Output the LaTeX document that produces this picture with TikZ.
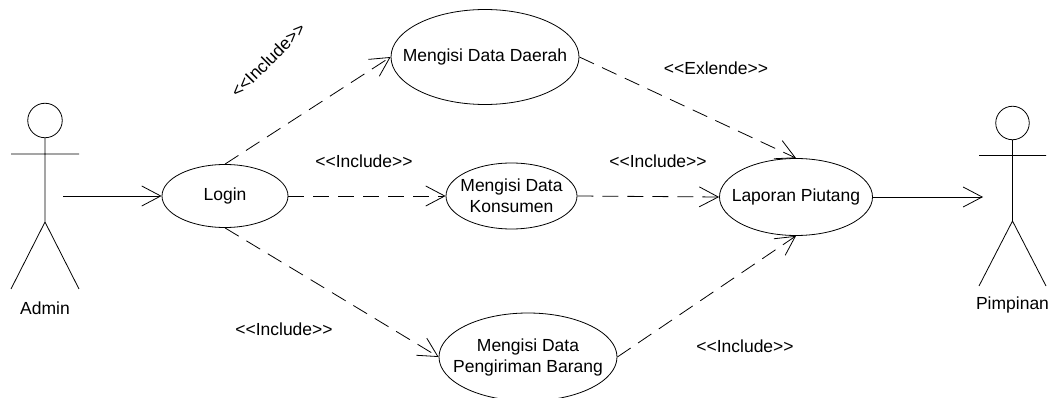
\documentclass[tikz,border=0pt]{standalone}
\usepackage{fontspec}
\setmainfont{Liberation Sans}[Ligatures=NoCommon]
\usetikzlibrary{arrows.meta,shapes.geometric}
\newcommand{\uct}[1]{\makebox[0pt][c]{\raisebox{-1.5pt}{#1}}}
\newcommand{\gui}[1]{<{}<#1>{}>}
\tikzset{
  uc/.style={draw,ellipse,line width=0.8pt,inner sep=0pt,font=\fontsize{17.5}{21}\selectfont,align=center},
  lbl/.style={font=\fontsize{17.5}{21}\selectfont,inner sep=0pt},
  actorline/.style={line width=0.8pt},
  assoc/.style={line width=0.8pt,-{Straight Barb[length=19pt,width=20pt,line width=0.8pt]}},
  dep/.style={assoc,dash pattern=on 16pt off 9pt},
}
\begin{document}
\begin{tikzpicture}[x=1pt,y=-1pt]
\useasboundingbox (0,0) rectangle (1053,398);
% actors
\node[draw,circle,actorline,minimum size=34.5pt,inner sep=0pt] (ah) at (45,120.5) {};
\coordinate (ahip) at (45,222);
\coordinate (aal) at (11,154);
\coordinate (aar) at (79,154);
\coordinate (all) at (11,289);
\coordinate (alr) at (79,289);
\draw[actorline] (ah.south) -- (ahip) (aal) -- (aar) (all) -- (ahip) -- (alr);
\node[lbl] (an) at (45,308.5) {Admin};
\node[draw,circle,actorline,minimum size=33.5pt,inner sep=0pt] (ph) at (1012.5,123) {};
\coordinate (phip) at (1012.5,221);
\coordinate (pal) at (979,155.5);
\coordinate (par) at (1046,155.5);
\coordinate (pll) at (979,286);
\coordinate (plr) at (1046,286);
\draw[actorline] (ph.south) -- (phip) (pal) -- (par) (pll) -- (phip) -- (plr);
\node[lbl] (pn) at (1012.5,304.5) {Pimpinan};
% use cases
\node[uc,minimum width=126pt,minimum height=63pt] (login) at (225,196) {\uct{Login}};
\node[uc,minimum width=188pt,minimum height=95pt] (daerah) at (485,57) {\uct{Mengisi Data Daerah}};
\node[uc,minimum width=131pt,minimum height=66pt] (kons) at (511.5,196) {\uct{Mengisi Data}\\\uct{Konsumen}};
\node[uc,minimum width=178pt,minimum height=88pt] (kirim) at (528,357) {\uct{Mengisi Data}\\\uct{Pengiriman Barang}};
\node[uc,minimum width=153pt,minimum height=77pt] (lap) at (796,197) {\uct{Laporan Piutang}};
\coordinate (afrom) at (63,196);
\coordinate (pto) at (983,197);
% connectors
\draw[assoc] (afrom) -- (login.west);
\draw[assoc] (lap.east) -- (pto);
\draw[dep] (login.north) -- (daerah.west);
\draw[dep] (login.east) -- (kons.west);
\draw[dep] (login.south) -- (kirim.west);
\draw[dep] (daerah.east) -- (lap.north);
\draw[dep] (kons.east) -- (lap.west);
\draw[dep] (kirim.east) -- (lap.south);
% labels
\node[lbl,rotate=45] (l1) at (268,60) {\gui{Include}};
\node[lbl] (l2) at (364,161) {\gui{Include}};
\node[lbl] (l3) at (284,329) {\gui{Include}};
\node[lbl] (l4) at (716,68) {\gui{Exlende}};
\node[lbl] (l5) at (658,161) {\gui{Include}};
\node[lbl] (l6) at (745,346.5) {\gui{Include}};
\end{tikzpicture}
\end{document}
